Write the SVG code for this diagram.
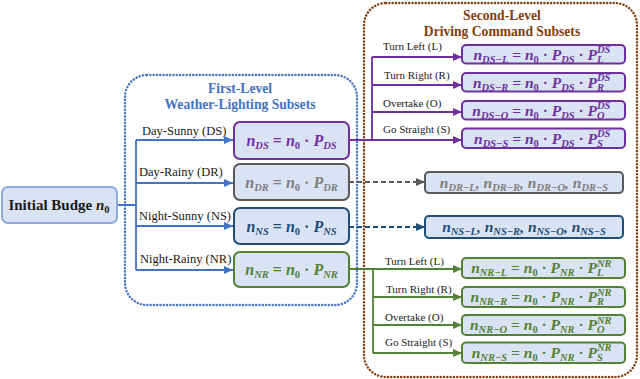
<svg xmlns="http://www.w3.org/2000/svg" width="640" height="379" viewBox="0 0 640 379">
<style>
.lbl{font-family:"Liberation Serif","Times New Roman",serif;font-size:12.5px;fill:#1a1a1a}
.sl{font-size:11px}
.ttl{font-family:"Liberation Serif","Times New Roman",serif;font-size:13.6px;font-weight:bold;text-anchor:middle}
.m{font-family:"Liberation Serif","Times New Roman",serif;font-weight:bold;font-style:italic}
.m16{font-size:16px}
.m15{font-size:15.5px}
.sc{font-size:10.5px}
.up{font-style:normal}
.box{fill:#dae3f3;stroke-width:2}
.ln{fill:none;stroke-width:1.8}
.dash{stroke-dasharray:5 3}
.pu{fill:#7030a0}.spu{stroke:#7030a0}
.gy{fill:#7f7f7f}.sgy{stroke:#595959}
.nv{fill:#1f4e79}.snv{stroke:#1f4e79}
.gr{fill:#548235}.sgr{stroke:#548235}
.sbl{stroke:#4472c4}
</style>
<defs>
<marker id="aBl" markerUnits="userSpaceOnUse" markerWidth="9" markerHeight="8" refX="9" refY="4" orient="auto"><path d="M0,0 L9,4 L0,8 z" fill="#4472c4"/></marker>
<marker id="aPu" markerUnits="userSpaceOnUse" markerWidth="9" markerHeight="8" refX="9" refY="4" orient="auto"><path d="M0,0 L9,4 L0,8 z" fill="#7030a0"/></marker>
<marker id="aGy" markerUnits="userSpaceOnUse" markerWidth="9" markerHeight="8" refX="9" refY="4" orient="auto"><path d="M0,0 L9,4 L0,8 z" fill="#595959"/></marker>
<marker id="aNv" markerUnits="userSpaceOnUse" markerWidth="9" markerHeight="8" refX="9" refY="4" orient="auto"><path d="M0,0 L9,4 L0,8 z" fill="#1f4e79"/></marker>
<marker id="aGr" markerUnits="userSpaceOnUse" markerWidth="9" markerHeight="8" refX="9" refY="4" orient="auto"><path d="M0,0 L9,4 L0,8 z" fill="#548235"/></marker>
</defs>
<rect width="640" height="379" fill="#ffffff"/>

<!-- containers -->
<g id="first-level">
<rect x="125" y="75" width="232" height="230" rx="22" fill="none" stroke="#4472c4" stroke-width="2.4" stroke-dasharray="0.1 3.2" stroke-linecap="round"/>
<text class="ttl" x="240" y="93" fill="#4472c4">First-Level</text>
<text class="ttl" x="240" y="109" fill="#4472c4">Weather-Lighting Subsets</text>
</g>
<g id="second-level">
<rect x="364" y="3" width="273" height="374" rx="22" fill="none" stroke="#843c0c" stroke-width="2.4" stroke-dasharray="0.1 3.2" stroke-linecap="round"/>
<text class="ttl" x="502" y="19.5" fill="#843c0c">Second-Level</text>
<text class="ttl" x="502" y="35.5" fill="#843c0c">Driving Command Subsets</text>
</g>

<!-- connectors -->
<g id="connectors">
<path class="ln sbl" d="M117,205 H136 M136,140 V270"/>
<path class="ln sbl" d="M136,140 H233" marker-end="url(#aBl)"/>
<path class="ln sbl" d="M136,183 H233" marker-end="url(#aBl)"/>
<path class="ln sbl" d="M136,226 H233" marker-end="url(#aBl)"/>
<path class="ln sbl" d="M136,270 H233" marker-end="url(#aBl)"/>
<path class="ln spu" d="M349,140 H372 M372,57 V140"/>
<path class="ln spu" d="M372,57 H462" marker-end="url(#aPu)"/>
<path class="ln spu" d="M372,85 H462" marker-end="url(#aPu)"/>
<path class="ln spu" d="M372,112 H462" marker-end="url(#aPu)"/>
<path class="ln spu" d="M372,140 H462" marker-end="url(#aPu)"/>
<path class="ln sgy dash" d="M349,182 H425" marker-end="url(#aGy)"/>
<path class="ln snv dash" d="M349,227 H425" marker-end="url(#aNv)"/>
<path class="ln sgr" d="M349,269 H373 M373,269 V353"/>
<path class="ln sgr" d="M373,269 H462" marker-end="url(#aGr)"/>
<path class="ln sgr" d="M373,297 H462" marker-end="url(#aGr)"/>
<path class="ln sgr" d="M373,325 H462" marker-end="url(#aGr)"/>
<path class="ln sgr" d="M373,353 H462" marker-end="url(#aGr)"/>
<text class="lbl" x="142" y="135">Day-Sunny (DS)</text>
<text class="lbl" x="139" y="176">Day-Rainy (DR)</text>
<text class="lbl" x="139" y="220">Night-Sunny (NS)</text>
<text class="lbl" x="140" y="263">Night-Rainy (NR)</text>
<text class="lbl sl" x="383" y="50">Turn Left (L)</text>
<text class="lbl sl" x="384" y="79">Turn Right (R)</text>
<text class="lbl sl" x="383" y="107">Overtake (O)</text>
<text class="lbl sl" x="383" y="133">Go Straight (S)</text>
<text class="lbl sl" x="385" y="265">Turn Left (L)</text>
<text class="lbl sl" x="386" y="293">Turn Right (R)</text>
<text class="lbl sl" x="385" y="321">Overtake (O)</text>
<text class="lbl sl" x="385" y="346">Go Straight (S)</text>
</g>

<!-- initial -->
<g id="initial">
<rect x="2" y="187" width="115" height="36" rx="6" fill="#dae3f3" stroke="#8faadc" stroke-width="2"/>
<text x="59" y="210" text-anchor="middle" font-family="Liberation Serif, Times New Roman, serif" font-size="15" font-weight="bold" fill="#1a1a1a">Initial Budge <tspan font-style="italic">n</tspan><tspan font-size="10.5" dy="3">0</tspan></text>
</g>

<!-- first level boxes -->
<g id="ds">
<rect class="box spu" x="234" y="122" width="115" height="37" rx="6"/>
<text class="m m16 pu" x="291.5" y="146" text-anchor="middle">n<tspan class="sc" dy="3">DS</tspan><tspan class="up" dy="-3"> = </tspan>n<tspan class="sc up" dy="3">0</tspan><tspan class="up" dy="-3"> · </tspan>P<tspan class="sc" dy="3">DS</tspan></text>
</g>
<g id="dr">
<rect class="box sgy" x="234" y="164" width="115" height="36" rx="6"/>
<text class="m m16 gy" x="291.5" y="188" text-anchor="middle">n<tspan class="sc" dy="3">DR</tspan><tspan class="up" dy="-3"> = </tspan>n<tspan class="sc up" dy="3">0</tspan><tspan class="up" dy="-3"> · </tspan>P<tspan class="sc" dy="3">DR</tspan></text>
</g>
<g id="ns">
<rect class="box snv" x="234" y="208" width="115" height="36" rx="6"/>
<text class="m m16 nv" x="291.5" y="232" text-anchor="middle">n<tspan class="sc" dy="3">NS</tspan><tspan class="up" dy="-3"> = </tspan>n<tspan class="sc up" dy="3">0</tspan><tspan class="up" dy="-3"> · </tspan>P<tspan class="sc" dy="3">NS</tspan></text>
</g>
<g id="nr">
<rect class="box sgr" x="234" y="252" width="115" height="35" rx="6"/>
<text class="m m16 gr" x="291.5" y="275" text-anchor="middle">n<tspan class="sc" dy="3">NR</tspan><tspan class="up" dy="-3"> = </tspan>n<tspan class="sc up" dy="3">0</tspan><tspan class="up" dy="-3"> · </tspan>P<tspan class="sc" dy="3">NR</tspan></text>
</g>

<!-- DS sub-boxes -->
<g id="ds-l">
<rect class="box spu" x="462" y="45" width="163" height="18.5" rx="4"/>
<text class="m m15 pu" x="597" y="59.5" text-anchor="end">n<tspan class="sc" dy="3">DS−L</tspan><tspan class="up" dy="-3"> = </tspan>n<tspan class="sc up" dy="3">0</tspan><tspan class="up" dy="-3"> · </tspan>P<tspan class="sc" dy="3">DS</tspan><tspan class="up" dy="-3"> · </tspan>P</text>
<text class="m sc pu" x="597" y="62.5">L</text><text class="m sc pu" x="597" y="53">DS</text>
</g>
<g id="ds-r">
<rect class="box spu" x="462" y="73" width="163" height="18.5" rx="4"/>
<text class="m m15 pu" x="597" y="87.5" text-anchor="end">n<tspan class="sc" dy="3">DS−R</tspan><tspan class="up" dy="-3"> = </tspan>n<tspan class="sc up" dy="3">0</tspan><tspan class="up" dy="-3"> · </tspan>P<tspan class="sc" dy="3">DS</tspan><tspan class="up" dy="-3"> · </tspan>P</text>
<text class="m sc pu" x="597" y="90.5">R</text><text class="m sc pu" x="597" y="81">DS</text>
</g>
<g id="ds-o">
<rect class="box spu" x="462" y="101" width="163" height="18.5" rx="4"/>
<text class="m m15 pu" x="597" y="115.5" text-anchor="end">n<tspan class="sc" dy="3">DS−O</tspan><tspan class="up" dy="-3"> = </tspan>n<tspan class="sc up" dy="3">0</tspan><tspan class="up" dy="-3"> · </tspan>P<tspan class="sc" dy="3">DS</tspan><tspan class="up" dy="-3"> · </tspan>P</text>
<text class="m sc pu" x="597" y="118.5">O</text><text class="m sc pu" x="597" y="109">DS</text>
</g>
<g id="ds-s">
<rect class="box spu" x="462" y="128.5" width="163" height="19.5" rx="4"/>
<text class="m m15 pu" x="597" y="143.5" text-anchor="end">n<tspan class="sc" dy="3">DS−S</tspan><tspan class="up" dy="-3"> = </tspan>n<tspan class="sc up" dy="3">0</tspan><tspan class="up" dy="-3"> · </tspan>P<tspan class="sc" dy="3">DS</tspan><tspan class="up" dy="-3"> · </tspan>P</text>
<text class="m sc pu" x="597" y="146.5">S</text><text class="m sc pu" x="597" y="137">DS</text>
</g>

<!-- summary boxes -->
<g id="dr-sub">
<rect class="box sgy" x="425" y="172" width="198" height="21" rx="4"/>
<text class="m m15 gy" x="524" y="187.5" text-anchor="middle">n<tspan class="sc" dy="3">DR−L</tspan><tspan dy="-3">, n</tspan><tspan class="sc" dy="3">DR−R</tspan><tspan dy="-3">, n</tspan><tspan class="sc" dy="3">DR−O</tspan><tspan dy="-3">, n</tspan><tspan class="sc" dy="3">DR−S</tspan></text>
</g>
<g id="ns-sub">
<rect class="box snv" x="425" y="216" width="198" height="22" rx="4"/>
<text class="m m15 nv" x="524" y="231.5" text-anchor="middle">n<tspan class="sc" dy="3">NS−L</tspan><tspan dy="-3">, n</tspan><tspan class="sc" dy="3">NS−R</tspan><tspan dy="-3">, n</tspan><tspan class="sc" dy="3">NS−O</tspan><tspan dy="-3">, n</tspan><tspan class="sc" dy="3">NS−S</tspan></text>
</g>

<!-- NR sub-boxes -->
<g id="nr-l">
<rect class="box sgr" x="462" y="258" width="163" height="20" rx="4"/>
<text class="m m15 gr" x="597" y="273" text-anchor="end">n<tspan class="sc" dy="3">NR−L</tspan><tspan class="up" dy="-3"> = </tspan>n<tspan class="sc up" dy="3">0</tspan><tspan class="up" dy="-3"> · </tspan>P<tspan class="sc" dy="3">NR</tspan><tspan class="up" dy="-3"> · </tspan>P</text>
<text class="m sc gr" x="597" y="276">L</text><text class="m sc gr" x="597" y="266.5">NR</text>
</g>
<g id="nr-r">
<rect class="box sgr" x="462" y="287" width="163" height="20" rx="4"/>
<text class="m m15 gr" x="597" y="302" text-anchor="end">n<tspan class="sc" dy="3">NR−R</tspan><tspan class="up" dy="-3"> = </tspan>n<tspan class="sc up" dy="3">0</tspan><tspan class="up" dy="-3"> · </tspan>P<tspan class="sc" dy="3">NR</tspan><tspan class="up" dy="-3"> · </tspan>P</text>
<text class="m sc gr" x="597" y="305">R</text><text class="m sc gr" x="597" y="295.5">NR</text>
</g>
<g id="nr-o">
<rect class="box sgr" x="462" y="315" width="163" height="20" rx="4"/>
<text class="m m15 gr" x="597" y="330" text-anchor="end">n<tspan class="sc" dy="3">NR−O</tspan><tspan class="up" dy="-3"> = </tspan>n<tspan class="sc up" dy="3">0</tspan><tspan class="up" dy="-3"> · </tspan>P<tspan class="sc" dy="3">NR</tspan><tspan class="up" dy="-3"> · </tspan>P</text>
<text class="m sc gr" x="597" y="333">O</text><text class="m sc gr" x="597" y="323.5">NR</text>
</g>
<g id="nr-s">
<rect class="box sgr" x="462" y="342.5" width="163" height="20.5" rx="4"/>
<text class="m m15 gr" x="597" y="357.5" text-anchor="end">n<tspan class="sc" dy="3">NR−S</tspan><tspan class="up" dy="-3"> = </tspan>n<tspan class="sc up" dy="3">0</tspan><tspan class="up" dy="-3"> · </tspan>P<tspan class="sc" dy="3">NR</tspan><tspan class="up" dy="-3"> · </tspan>P</text>
<text class="m sc gr" x="597" y="360.5">S</text><text class="m sc gr" x="597" y="351">NR</text>
</g>
</svg>
